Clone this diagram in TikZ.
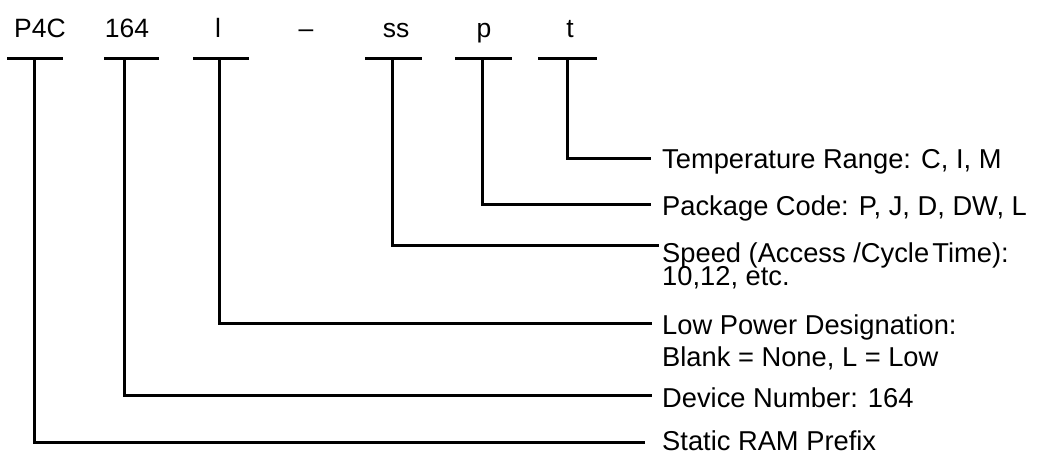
\documentclass[tikz,border=0pt]{standalone}
\usepackage{fontspec}
\setmainfont{Liberation Sans}
\begin{document}
\begin{tikzpicture}[x=1pt,y=-1pt,
  conn/.style={line width=3pt,line cap=butt,line join=miter},
  toplab/.style={inner sep=0pt,anchor=base,font=\fontsize{26.5}{30}\selectfont},
  rightlab/.style={inner sep=0pt,anchor=base west,font=\fontsize{27.3}{30}\selectfont}]
\useasboundingbox (0,0) rectangle (1041,453);
% top code letters
\node[toplab] (tP) at (40,37) {P4C};
\node[toplab] (tN) at (127,37) {164};
\node[toplab] (tL) at (218,37) {l};
\node[toplab] (tD) at (306,37) {--};
\node[toplab] (tS) at (396,37) {ss};
\node[toplab] (tK) at (484,37) {p};
\node[toplab] (tT) at (570,37) {t};
% bars
\coordinate (b1l) at (7,58);   \coordinate (b1r) at (63,58);  \coordinate (b1) at (34,58);
\coordinate (b2l) at (104,58); \coordinate (b2r) at (159,58); \coordinate (b2) at (124,58);
\coordinate (b3l) at (193,58); \coordinate (b3r) at (249,58); \coordinate (b3) at (219,58);
\coordinate (b4l) at (365,58); \coordinate (b4r) at (422,58); \coordinate (b4) at (392,58);
\coordinate (b5l) at (455,58); \coordinate (b5r) at (512,58); \coordinate (b5) at (482,58);
\coordinate (b6l) at (538,58); \coordinate (b6r) at (597,58); \coordinate (b6) at (567,58);
\foreach \i in {1,...,6} \draw[conn] (b\i l) -- (b\i r);
% right labels
\node[rightlab] (rT) at (662,168) {Temperature Range: C, I, M};
\node[rightlab] (rK) at (662,215) {Package Code: P, J, D, DW, L};
\node[rightlab] (rS) at (662,262) {Speed (Access /Cycle\hspace{0.12em}Time):};
\node[rightlab] (rS2) at (662,285) {10,12, etc.};
\node[rightlab] (rL) at (662,334) {Low Power Designation:};
\node[rightlab] (rL2) at (662,366) {Blank = None, L = Low};
\node[rightlab] (rN) at (662,407) {Device Number: 164};
\node[rightlab] (rP) at (662,450) {Static RAM Prefix};
% line ends
\coordinate (e6) at (651,158);
\coordinate (e5) at (651,204);
\coordinate (e4) at (659,245);
\coordinate (e3) at (652,323);
\coordinate (e2) at (652,395);
\coordinate (e1) at (645,442);
\foreach \i in {1,...,6} \draw[conn] (b\i) |- (e\i);
\end{tikzpicture}
\end{document}
